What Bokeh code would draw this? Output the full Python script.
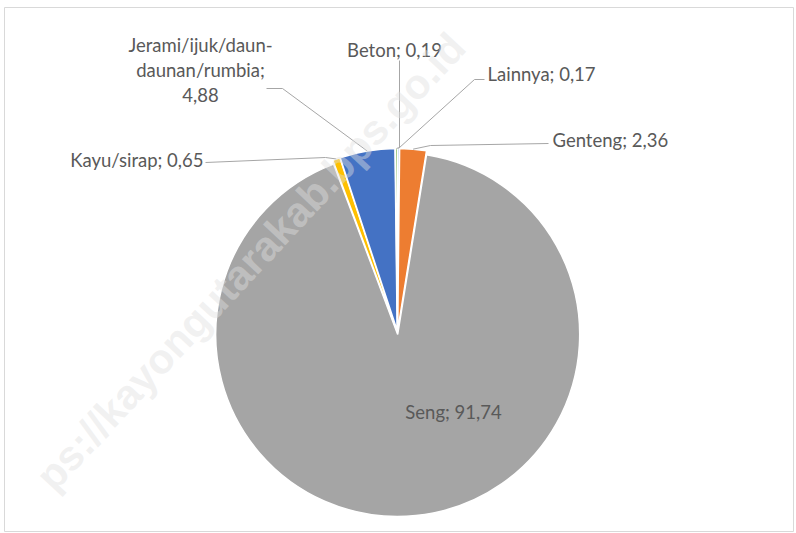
import numpy as np
from bokeh.plotting import figure
from bokeh.models import Range1d
from bokeh.core.properties import value
from bokeh.embed import file_html
from bokeh.resources import INLINE

# ---- data ----
categories = ["Lainnya", "Genteng", "Seng", "Kayu/sirap", "Jerami/ijuk/daun-daunan/rumbia", "Beton"]
values = [0.17, 2.36, 91.74, 0.65, 4.88, 0.19]
colors = ["#5B9BD5", "#ED7D31", "#A5A5A5", "#FFC000", "#4472C4", "#70AD47"]

# ---- layout (pixel-like data units, y measured from bottom) ----
W, H = 796, 533
cx, cy, r = 397, 201, 182
explode = 2.0
FONT = "Lato"
FSIZE = "18.5px"
TCOL = "#595959"
LCOL = "#A6A6A6"

p = figure(width=W, height=H, output_backend="svg", toolbar_location=None,
           x_range=Range1d(0, W), y_range=Range1d(0, H),
           x_axis_location=None, y_axis_location=None, min_border=0)
p.grid.visible = False
p.outline_line_color = None
p.background_fill_color = "white"

# chart-area border
p.quad(left=[4], right=[793], bottom=[2], top=[526], fill_color=None,
       line_color="#D9D9D9", line_width=1)

fr = np.array(values) / sum(values)
cum = np.concatenate([[0.0], np.cumsum(fr)])
start = np.pi / 2 - cum[1:] * 2 * np.pi
end = np.pi / 2 - cum[:-1] * 2 * np.pi
mid = (start + end) / 2
xs = cx + explode * np.cos(mid)
ys = cy + explode * np.sin(mid)

p.wedge(x=xs, y=ys, radius=r, start_angle=start, end_angle=end,
        fill_color=colors, line_color="white", line_width=1.5)

edge_x = xs + r * np.cos(mid)
edge_y = ys + r * np.sin(mid)

def fmt(v):
    return f"{v:.2f}".replace(".", ",")

placement = {
    "Lainnya": dict(x=487, y=460, align="left", lines=None, leader=[(484, 454), (474, 454)]),
    "Genteng": dict(x=552, y=394, align="left", lines=None, leader=[(548, 390), (430, 388)]),
    "Seng": dict(x=453, y=122, align="center", lines=None, leader=None),
    "Kayu/sirap": dict(x=203, y=374, align="right", lines=None, leader=[(205, 371), (325, 376)]),
    "Jerami/ijuk/daun-daunan/rumbia": dict(x=200, y=489, align="center", lines=25,
                                           leader=[(266, 445), (282, 445)]),
    "Beton": dict(x=394, y=484, align="center", lines=None, leader=[(399, 473), (399, 386)]),
}

for i, (cat, v) in enumerate(zip(categories, values)):
    pl = placement[cat]
    label = f"{cat}; {fmt(v)}"
    if pl["lines"]:
        parts = ["Jerami/ijuk/daun-", "daunan/rumbia;", fmt(v)]
        for k, t in enumerate(parts):
            p.text(x=[pl["x"]], y=[pl["y"] - k * pl["lines"]], text=[t],
                   text_align=pl["align"], text_baseline="middle",
                   text_font=value(FONT), text_font_size=FSIZE, text_color=TCOL)
    else:
        p.text(x=[pl["x"]], y=[pl["y"]], text=[label],
               text_align=pl["align"], text_baseline="middle",
               text_font=value(FONT), text_font_size=FSIZE, text_color=TCOL)
    if pl["leader"]:
        lx = [pt[0] for pt in pl["leader"]] + [edge_x[i]]
        ly = [pt[1] for pt in pl["leader"]] + [edge_y[i]]
        p.line(lx, ly, line_color=LCOL, line_width=1)

# watermark (visible part only)
p.text(x=[250], y=[272], text=["ps://kayongutarakab.bps.go.id"], angle=0.82,
       text_align="center", text_baseline="middle", text_font=value("Liberation Sans"),
       text_font_style="bold", text_font_size="42px", text_color="#E0E0E0", text_alpha=0.45)

open("out.html", "w").write(file_html(p, INLINE))
